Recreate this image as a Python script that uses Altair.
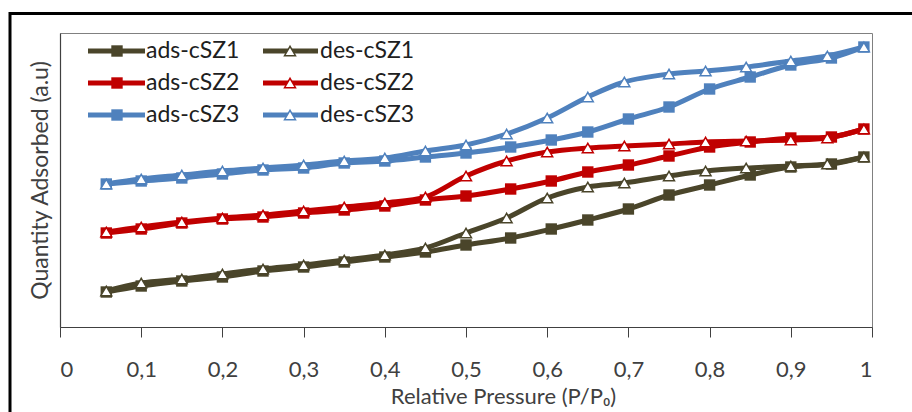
import altair as alt
import pandas as pd

# ---------------- data (arbitrary units) ----------------
pressure_ads = [0.057, 0.1, 0.15, 0.2, 0.25, 0.3, 0.35, 0.4, 0.45, 0.5,
                0.555, 0.605, 0.65, 0.7, 0.75, 0.8, 0.85, 0.9, 0.95, 0.99]
pressure_des = [0.057, 0.1, 0.15, 0.2, 0.25, 0.3, 0.35, 0.4, 0.45, 0.5,
                0.55, 0.6, 0.65, 0.695, 0.75, 0.795, 0.845, 0.9, 0.945, 0.99]

ads_cSZ1 = [35, 41, 46, 50, 56, 60, 65, 70, 75, 82, 89, 98, 107, 118, 132, 142, 152, 160, 163, 170]
des_cSZ1 = [36, 44, 48, 53, 58, 62, 67, 72, 79, 94, 109, 129, 140, 144, 151, 156, 159, 161, 163, 170]
ads_cSZ2 = [94, 98, 104, 108, 110, 114, 117, 121, 127, 131, 138, 146, 155, 162, 171, 180, 185, 189, 190, 198]
des_cSZ2 = [95, 100, 105, 109, 112, 116, 120, 124, 130, 151, 166, 175, 179, 181, 183, 185, 186, 187, 189, 198]
ads_cSZ3 = [143, 146, 149, 153, 157, 159, 164, 166, 170, 174, 180, 187, 195, 208, 220, 238, 250, 262, 269, 280]
des_cSZ3 = [143, 148, 152, 156, 159, 162, 166, 169, 176, 182, 193, 209, 230, 245, 253, 256, 260, 266, 271, 280]

series_names = ["ads-cSZ1", "des-cSZ1", "ads-cSZ2", "des-cSZ2", "ads-cSZ3", "des-cSZ3"]
series_colors = ["#4a452a", "#4a452a", "#c00000", "#c00000", "#4f81bd", "#4f81bd"]
x_ticks = [0, 0.1, 0.2, 0.3, 0.4, 0.5, 0.6, 0.7, 0.8, 0.9, 1]

FONT = "Lato"
TXT = "#404040"

# ---------------- build the long table ----------------
rows = []
series_values = [ads_cSZ1, des_cSZ1, ads_cSZ2, des_cSZ2, ads_cSZ3, des_cSZ3]
for name, vals in zip(series_names, series_values):
    xs = pressure_ads if name.startswith("ads") else pressure_des
    kind = "ads" if name.startswith("ads") else "des"
    for i, (x, v) in enumerate(zip(xs, vals)):
        rows.append({"series": name, "kind": kind, "p": x, "q": v, "i": i})
df = pd.DataFrame(rows)

color_scale = alt.Scale(domain=series_names, range=series_colors)
x_enc = alt.X("p:Q", scale=alt.Scale(domain=[0, 1], nice=False),
              axis=alt.Axis(values=x_ticks, grid=False, tickSize=10, tickColor=TXT,
                            domainColor=TXT, domainWidth=1.2,
                            labelExpr="datum.value == 0 || datum.value == 1 ? format(datum.value, 'd') : replace(format(datum.value, '.1f'), '.', ',')",
                            labelFont=FONT, labelFontSize=22, labelColor=TXT, labelPadding=22,
                            title="Relative Pressure (P/P\u2080)", titleFont=FONT, titleFontSize=22,
                            titleFontWeight="normal", titleColor=TXT,
                            titleX=443, titleY=76, titleBaseline="alphabetic", titleAlign="center"))
y_enc = alt.Y("q:Q", scale=alt.Scale(domain=[0, 294], nice=False, zero=False),
              axis=alt.Axis(labels=False, ticks=False, grid=False, domainColor=TXT, domainWidth=1.2,
                            title="Quantity Adsorbed (a.u)", titleFont=FONT, titleFontSize=23,
                            titleFontWeight="normal", titleColor=TXT, titlePadding=8))

base = alt.Chart(df)
lines = base.mark_line(interpolate="catmull-rom", strokeWidth=5).encode(
    x=x_enc, y=y_enc,
    color=alt.Color("series:N", scale=color_scale, legend=None),
    detail="series:N", order="i:Q")
squares = base.transform_filter(alt.datum.kind == "ads").mark_point(
    shape="square", filled=True, size=130, opacity=1).encode(
    x="p:Q", y="q:Q", color=alt.Color("series:N", scale=color_scale, legend=None))
triangles = base.transform_filter(alt.datum.kind == "des").mark_point(
    shape="triangle-up", filled=False, fill="white", fillOpacity=1, size=120,
    strokeWidth=1.5, opacity=1).encode(
    x="p:Q", y="q:Q", stroke=alt.Stroke("series:N", scale=color_scale, legend=None))

# ---------------- frame around whole figure ----------------
frame = alt.Chart(pd.DataFrame({"a": [0]})).mark_rect(
    fill="transparent", stroke="black", strokeWidth=3).encode(
    x=alt.value(-50), x2=alt.value(900), y=alt.value(-19.5), y2=alt.value(420))

# ---------------- manual legend ----------------
leg_col_x0 = [28, 203]
leg_col_x1 = [85, 258]
leg_col_m = [57, 230]
leg_col_t = [86, 260]
leg_row_y = [18, 50, 82]
leg_rows = []
for k, name in enumerate(series_names):
    c = k % 2
    r = k // 2
    leg_rows.append({"series": name, "kind": "ads" if c == 0 else "des",
                     "x0": leg_col_x0[c], "x1": leg_col_x1[c], "xm": leg_col_m[c],
                     "xt": leg_col_t[c], "y": leg_row_y[r]})
leg = alt.Chart(pd.DataFrame(leg_rows))
leg_lines = leg.mark_rule(strokeWidth=5).encode(
    x=alt.X("x0:Q", scale=None), x2="x1:Q", y=alt.Y("y:Q", scale=None),
    color=alt.Color("series:N", scale=color_scale, legend=None))
leg_sq = leg.transform_filter(alt.datum.kind == "ads").mark_point(
    shape="square", filled=True, size=130, opacity=1).encode(
    x=alt.X("xm:Q", scale=None), y=alt.Y("y:Q", scale=None),
    color=alt.Color("series:N", scale=color_scale, legend=None))
leg_tri = leg.transform_filter(alt.datum.kind == "des").mark_point(
    shape="triangle-up", filled=False, fill="white", fillOpacity=1, size=120,
    strokeWidth=1.5, opacity=1).encode(
    x=alt.X("xm:Q", scale=None), y=alt.Y("y:Q", scale=None),
    stroke=alt.Stroke("series:N", scale=color_scale, legend=None))
leg_text = leg.mark_text(align="left", baseline="middle", font=FONT, fontSize=23,
                         color="#202020").encode(
    x=alt.X("xt:Q", scale=None), y=alt.Y("y:Q", scale=None), text="series:N")

chart = alt.layer(frame, lines, squares, triangles, leg_lines, leg_sq, leg_tri, leg_text).properties(
    width=812, height=294,
    padding={"left": 60, "top": 33, "right": 40, "bottom": 85},
    autosize=alt.AutoSizeParams(type="none"),
    background="white",
).configure_view(stroke="#808080", strokeWidth=1)

chart.save("out.html", embed_options={"renderer": "svg", "actions": False})
